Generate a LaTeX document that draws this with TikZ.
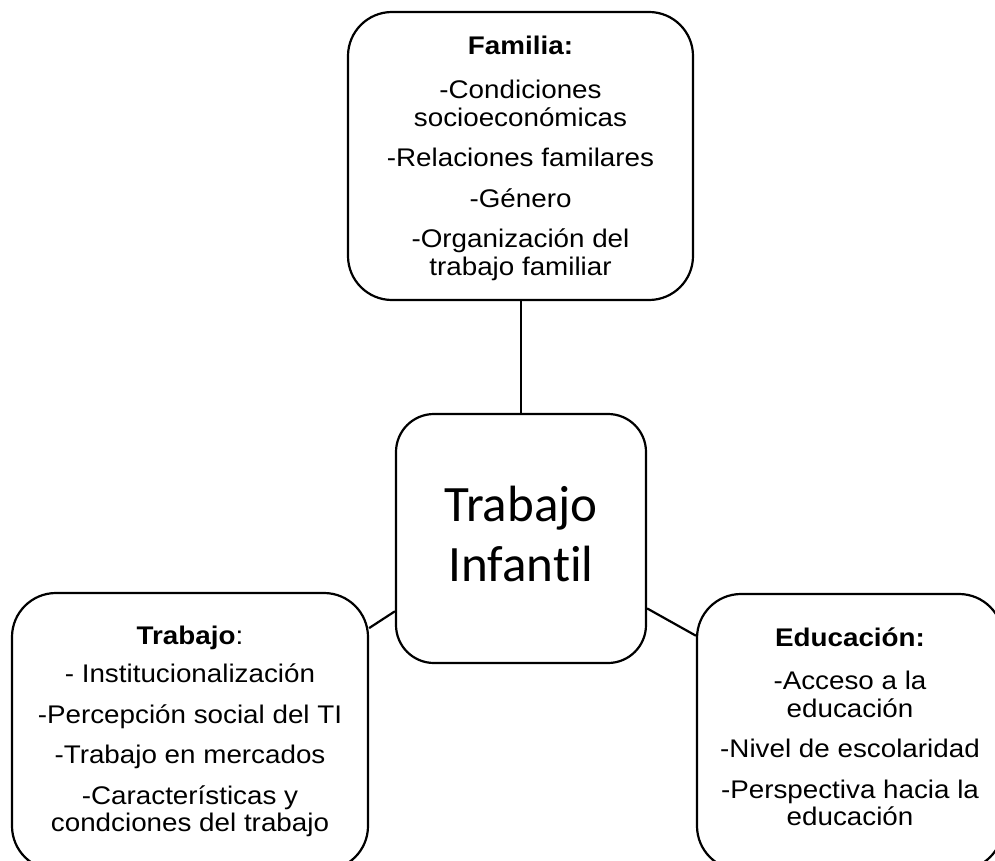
\documentclass[tikz,border=0pt]{standalone}
\usepackage{fontspec}
\setmainfont[FakeStretch=1.09]{Liberation Sans}
\newfontfamily\calibfont[Ligatures=NoCommon]{Carlito}
\tikzset{
  box/.style={draw, line width=2.2pt, rounded corners=44pt, align=center, inner sep=0pt,
    font=\fontsize{25.5}{27.5}\selectfont},
  centerbox/.style={draw, line width=2.2pt, rounded corners=38pt, align=center, inner sep=0pt,
    font=\calibfont\fontsize{51}{60}\selectfont, text depth=9pt},
  conn/.style={line width=2.2pt}
}
\begin{document}
\begin{tikzpicture}[x=1pt,y=-1pt]
\clip (0,0) rectangle (995,861);
\fill[white] (0,0) rectangle (995,861);
\node[box, minimum width=345pt, minimum height=288pt, text depth=0pt] (fam) at (520.5,156)
  {{\bfseries Familia:}\\[16.5pt] -Condiciones\\ socioeconómicas\\[13pt] -Relaciones familares\\[13pt] -Género\\[13pt] -Organización del\\ trabajo familiar};
\node[centerbox, minimum width=250pt, minimum height=249pt] (cen) at (521,538.5)
  {Trabajo\\ Infantil};
\node[box, minimum width=356pt, minimum height=277pt] (trab) at (190,731.5)
  {{\bfseries Trabajo}:\\[11pt] - Institucionalización\\[13pt] -Percepción social del TI\\[13pt] -Trabajo en mercados\\[13pt] -Características y\\ condciones del trabajo};
\node[box, minimum width=306pt, minimum height=276pt, text depth=11pt] (edu) at (850,732)
  {{\bfseries Educación:}\\[16pt] -Acceso a la\\ educación\\[13pt] -Nivel de escolaridad\\[13pt] -Perspectiva hacia la\\ educación};
\draw[conn] (cen.north |- fam.south) -- (cen.north);
\draw[conn] (trab.30.2) -- (cen.210.5);
\draw[conn] (cen.-29.8) -- (edu.148.4);
\end{tikzpicture}
\end{document}
